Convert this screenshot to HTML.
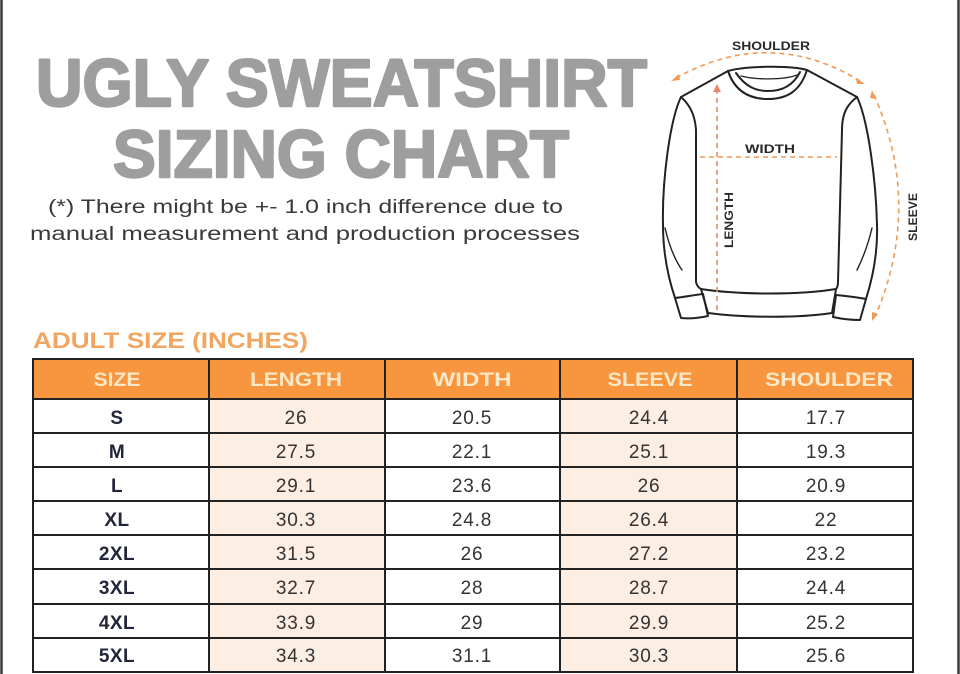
<!DOCTYPE html>
<html>
<head>
<meta charset="utf-8">
<style>
  html,body{margin:0;padding:0;background:#fff;}
  body{width:960px;height:674px;overflow:hidden;}
  svg{display:block;}
  text{font-family:"Liberation Sans", Arial, sans-serif;}
</style>
</head>
<body>
<svg width="960" height="674" viewBox="0 0 960 674" xmlns="http://www.w3.org/2000/svg">
  <rect x="0" y="0" width="960" height="674" fill="#ffffff"/>
  <!-- edge borders -->
  <line x1="1.5" y1="0" x2="1.5" y2="674" stroke="#3a3a3a" stroke-width="2.5"/>
  <line x1="958.5" y1="0" x2="958.5" y2="674" stroke="#3a3a3a" stroke-width="2.5"/>

  <!-- Title -->
  <g fill="#9e9e9e" stroke="#9e9e9e" stroke-width="2.4" stroke-linejoin="round">
    <text x="36" y="106" font-size="67" font-weight="900" textLength="611" lengthAdjust="spacingAndGlyphs">UGLY SWEATSHIRT</text>
    <text x="113" y="177" font-size="67" font-weight="900" textLength="456" lengthAdjust="spacingAndGlyphs">SIZING CHART</text>
  </g>

  <!-- Note -->
  <text x="48" y="213" font-size="19" fill="#3a3a3a" textLength="515" lengthAdjust="spacingAndGlyphs">(*) There might be +- 1.0 inch difference due to</text>
  <text x="30" y="240" font-size="19" fill="#3a3a3a" textLength="550" lengthAdjust="spacingAndGlyphs">manual measurement and production processes</text>

  <!-- Sweatshirt drawing -->
  <g fill="none" stroke="#222" stroke-width="2" stroke-linejoin="round" stroke-linecap="round">
    <path d="M728,71 C745,66 790,65 807,70"/>
    <path d="M728,71 C735,92 750,99 768,99 C786,99 800,92 807,70"/>
    <path d="M736,73 C745,86 755,91 768,91 C782,91 793,86 800,72"/>
    <path d="M741,76 C756,80 784,80 797,75" stroke-width="1.3"/>
    <path d="M728,71 L681,97"/>
    <path d="M807,70 L857,97"/>
    <path d="M681,97 C670,120 662,180 663,225 C663,255 669,280 675,298"/>
    <path d="M681,97 C690,105 695,115 696,130 L696,282 C697,286 699,288 701,289"/>
    <path d="M675,298 C684,297 694,295 703,294"/>
    <path d="M675,298 L681,318 C690,319 699,318 708,316 L703,294"/>
    <path d="M857,97 C868,120 876,180 877,225 C878,255 872,280 866,299"/>
    <path d="M857,97 C848,104 842,112 842,130 L838,282 C838,286 837,288 836,289"/>
    <path d="M866,299 C856,297 846,296 836,295"/>
    <path d="M866,299 L860,320 C851,320 842,319 833,317 L836,295"/>
    <path d="M701,289 C740,295 800,295 836,289"/>
    <path d="M701,289 L708,313 C745,318 800,318 832,313 L836,289"/>
    <path d="M665,228 C669,245 675,260 682,270" stroke-width="1.4"/>
    <path d="M872,228 C868,245 862,260 857,270" stroke-width="1.4"/>
  </g>

  <!-- measurement dashes -->
  <g fill="none" stroke="#f29a55" stroke-width="1.6" stroke-dasharray="5 4">
    <path d="M676,78 Q770,26 860,81"/>
    <path d="M874,95 Q923,205 875,317"/>
    <path d="M700,157 L837,157"/>
    <path d="M717,89 L717,313" stroke="#e88a6a"/>
  </g>
  <g fill="#f29a55">
    <polygon points="671,81 679,74 680,80"/>
    <polygon points="865,84 856,78 857,84"/>
    <polygon points="872,90 876,99 870,98"/>
    <polygon points="872,321 872,312 878,314"/>
    <polygon points="717,84 713,92 721,92" fill="#e88a6a"/>
  </g>

  <!-- diagram labels -->
  <text x="771" y="50" font-size="12" font-weight="bold" fill="#2a2a2a" text-anchor="middle" textLength="78" lengthAdjust="spacingAndGlyphs">SHOULDER</text>
  <text x="770" y="153" font-size="12" font-weight="bold" fill="#2a2a2a" text-anchor="middle" textLength="50" lengthAdjust="spacingAndGlyphs">WIDTH</text>
  <text transform="translate(733,220) rotate(-90)" x="0" y="0" font-size="12" font-weight="bold" fill="#2a2a2a" text-anchor="middle" textLength="56" lengthAdjust="spacingAndGlyphs">LENGTH</text>
  <text transform="translate(917,217) rotate(-90)" x="0" y="0" font-size="12" font-weight="bold" fill="#2a2a2a" text-anchor="middle" textLength="48" lengthAdjust="spacingAndGlyphs">SLEEVE</text>

  <!-- Adult size title -->
  <text x="33" y="348" font-size="22" font-weight="bold" fill="#f2a55e" textLength="275" lengthAdjust="spacingAndGlyphs">ADULT SIZE (INCHES)</text>

  <!-- Table -->
  <rect x="33" y="359" width="880" height="40" fill="#f7963f"/>
  <rect x="209" y="399" width="176" height="273" fill="#fdeee3"/>
  <rect x="560" y="399" width="177" height="273" fill="#fdeee3"/>

  <g font-size="19" font-weight="bold" fill="#fde7c4" text-anchor="middle">
    <text x="117" y="386" textLength="47" lengthAdjust="spacingAndGlyphs">SIZE</text>
    <text x="296" y="386" textLength="92" lengthAdjust="spacingAndGlyphs">LENGTH</text>
    <text x="472" y="386" textLength="79" lengthAdjust="spacingAndGlyphs">WIDTH</text>
    <text x="650" y="386" textLength="85" lengthAdjust="spacingAndGlyphs">SLEEVE</text>
    <text x="829" y="386" textLength="128" lengthAdjust="spacingAndGlyphs">SHOULDER</text>
  </g>

  <g stroke="#222" stroke-width="2" fill="none">
    <rect x="33" y="359" width="880" height="313"/>
    <line x1="209" y1="359" x2="209" y2="672"/>
    <line x1="385" y1="359" x2="385" y2="672"/>
    <line x1="560" y1="359" x2="560" y2="672"/>
    <line x1="737" y1="359" x2="737" y2="672"/>
    <line x1="33" y1="399" x2="913" y2="399"/>
    <line x1="33" y1="433" x2="913" y2="433"/>
    <line x1="33" y1="467" x2="913" y2="467"/>
    <line x1="33" y1="501" x2="913" y2="501"/>
    <line x1="33" y1="535" x2="913" y2="535"/>
    <line x1="33" y1="569" x2="913" y2="569"/>
    <line x1="33" y1="604" x2="913" y2="604"/>
    <line x1="33" y1="638" x2="913" y2="638"/>
  </g>

  <g font-size="19" font-weight="bold" fill="#23263a" text-anchor="middle" letter-spacing="0.5">
    <text x="117" y="424">S</text>
    <text x="117" y="458">M</text>
    <text x="117" y="492">L</text>
    <text x="117" y="526">XL</text>
    <text x="117" y="560">2XL</text>
    <text x="117" y="594">3XL</text>
    <text x="117" y="629">4XL</text>
    <text x="117" y="662">5XL</text>
  </g>

  <g font-size="19" fill="#333" text-anchor="middle" letter-spacing="0.8">
    <text x="296" y="424">26</text>
    <text x="296" y="458">27.5</text>
    <text x="296" y="492">29.1</text>
    <text x="296" y="526">30.3</text>
    <text x="296" y="560">31.5</text>
    <text x="296" y="594">32.7</text>
    <text x="296" y="629">33.9</text>
    <text x="296" y="662">34.3</text>

    <text x="472" y="424">20.5</text>
    <text x="472" y="458">22.1</text>
    <text x="472" y="492">23.6</text>
    <text x="472" y="526">24.8</text>
    <text x="472" y="560">26</text>
    <text x="472" y="594">28</text>
    <text x="472" y="629">29</text>
    <text x="472" y="662">31.1</text>

    <text x="649" y="424">24.4</text>
    <text x="649" y="458">25.1</text>
    <text x="649" y="492">26</text>
    <text x="649" y="526">26.4</text>
    <text x="649" y="560">27.2</text>
    <text x="649" y="594">28.7</text>
    <text x="649" y="629">29.9</text>
    <text x="649" y="662">30.3</text>

    <text x="826" y="424">17.7</text>
    <text x="826" y="458">19.3</text>
    <text x="826" y="492">20.9</text>
    <text x="826" y="526">22</text>
    <text x="826" y="560">23.2</text>
    <text x="826" y="594">24.4</text>
    <text x="826" y="629">25.2</text>
    <text x="826" y="662">25.6</text>
  </g>
</svg>
</body>
</html>
